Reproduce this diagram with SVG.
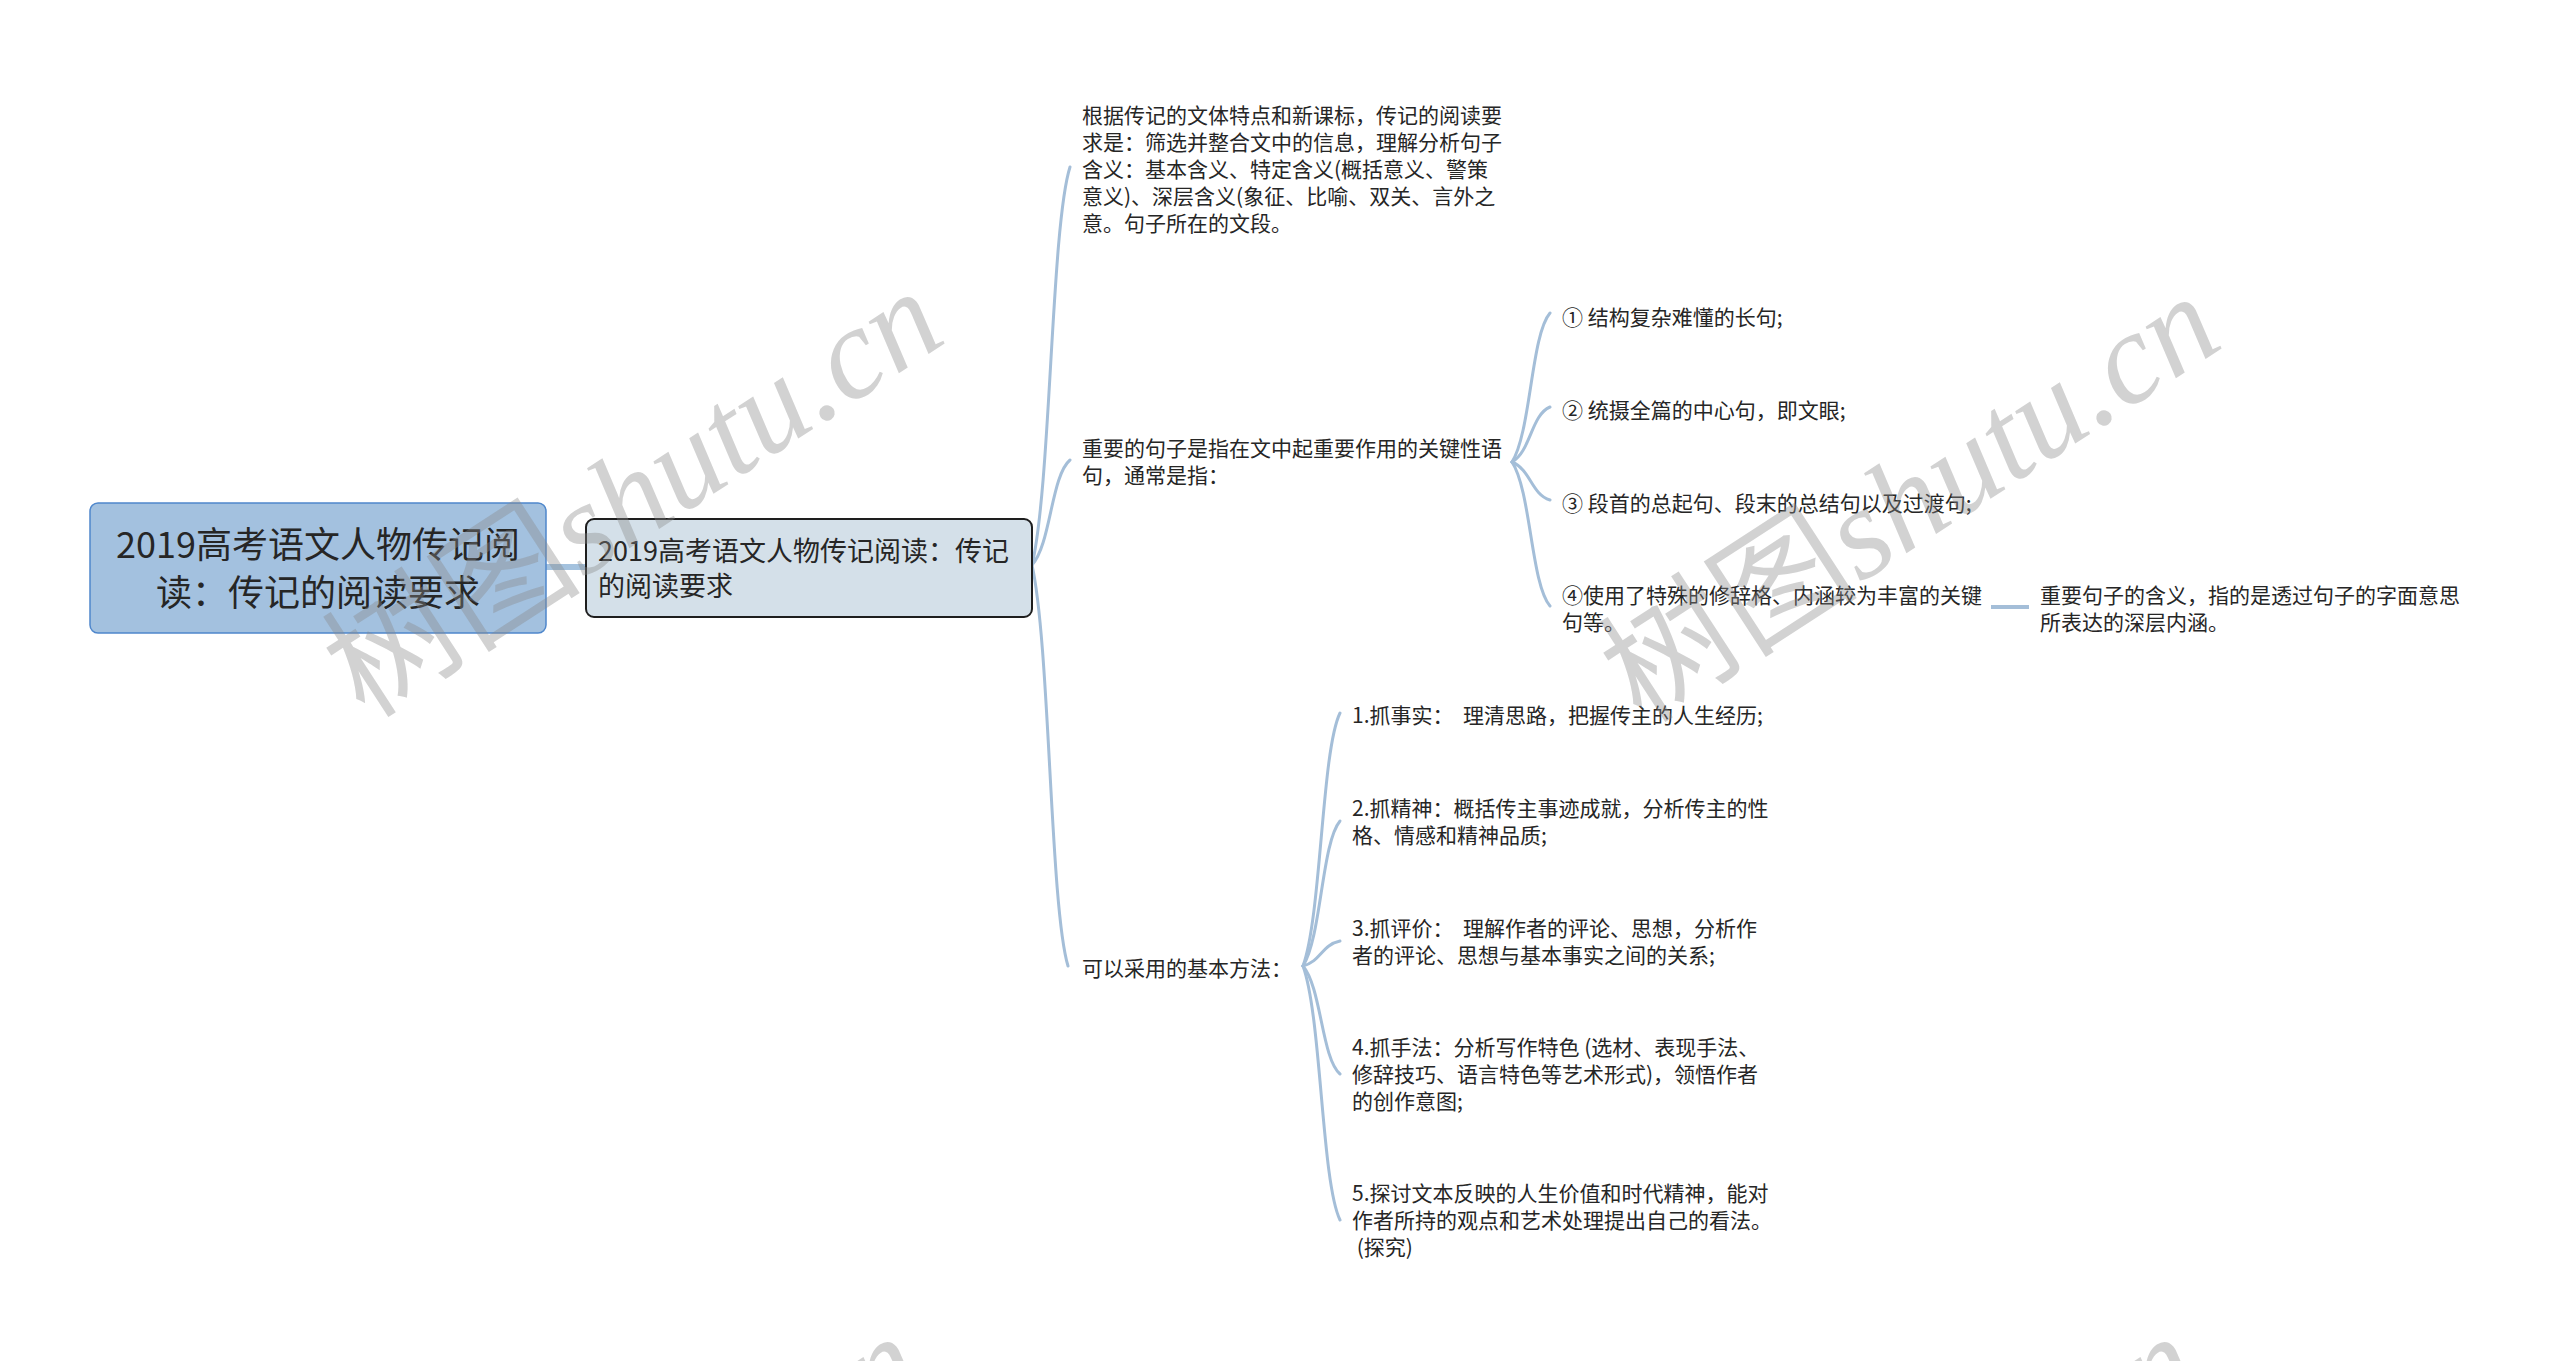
<svg xmlns="http://www.w3.org/2000/svg" width="2560" height="1361" viewBox="0 0 2560 1361">
<style>
.t{font-family:"Noto Sans CJK SC","Microsoft YaHei",sans-serif;fill:#262626}
.s{font-size:21px}
.conn{fill:none;stroke:#a4bed8;stroke-width:3;stroke-linecap:round}
.wm{fill:#8a8a8a;fill-opacity:0.38;font-size:130px}
.wmc{font-family:"Noto Sans CJK SC",sans-serif}
.wml{font-family:"Liberation Serif",serif;font-style:italic}
</style>
<rect width="2560" height="1361" fill="#ffffff"/>
<g id="connectors">
<line x1="546" y1="567" x2="585" y2="567" stroke="#a4c2de" stroke-width="6"/>
<path class="conn" d="M1032,565 C1051,485 1051,227 1070,167"/>
<path class="conn" d="M1032,565 C1051,544 1051,476 1070,460"/>
<path class="conn" d="M1032,565 C1050,645 1050,906 1068,966"/>
<path class="conn" d="M1512,462 C1531,432 1531,335 1550,313"/>
<path class="conn" d="M1512,462 C1531,451 1531,415 1550,407"/>
<path class="conn" d="M1512,462 C1531,470 1531,494 1550,500"/>
<path class="conn" d="M1512,462 C1531,491 1531,584 1550,606"/>
<path class="conn" d="M1303,966 C1321.5,915 1321.5,751 1340,713"/>
<path class="conn" d="M1303,966 C1321.5,937 1321.5,843 1340,821"/>
<path class="conn" d="M1303,966 C1321.5,961 1321.5,945 1340,941"/>
<path class="conn" d="M1303,966 C1321.5,988 1321.5,1058 1340,1074"/>
<path class="conn" d="M1303,966 C1321.5,1017 1321.5,1182 1340,1220"/>
<line x1="1991" y1="607" x2="2029" y2="607" stroke="#a4bed8" stroke-width="4"/>
</g>
<g id="root">
<rect x="90" y="503" width="456" height="130" rx="8" fill="#a3c1df" stroke="#4f87cc" stroke-width="1.5"/>
<text class="t" font-size="36" text-anchor="middle"><tspan x="318" y="558">2019高考语文人物传记阅</tspan><tspan x="318" y="606">读：传记的阅读要求</tspan></text>
</g>
<g id="main">
<rect x="586" y="519" width="446" height="98" rx="8" fill="#d4e0e9" stroke="#1e1e1e" stroke-width="2"/>
<text class="t" font-size="27"><tspan x="598" y="561">2019高考语文人物传记阅读：传记</tspan><tspan x="598" y="596">的阅读要求</tspan></text>
</g>
<g id="child1">
<text class="t s"><tspan x="1082" y="123">根据传记的文体特点和新课标，传记的阅读要</tspan><tspan x="1082" y="150">求是：筛选并整合文中的信息，理解分析句子</tspan><tspan x="1082" y="177">含义：基本含义、特定含义(概括意义、警策</tspan><tspan x="1082" y="204">意义)、深层含义(象征、比喻、双关、言外之</tspan><tspan x="1082" y="231">意。句子所在的文段。</tspan></text>
</g>
<g id="child2">
<text class="t s"><tspan x="1082" y="456">重要的句子是指在文中起重要作用的关键性语</tspan><tspan x="1082" y="483">句，通常是指：</tspan></text>
</g>
<g id="child2-1"><text class="t s" x="1562" y="325">① 结构复杂难懂的长句;</text></g>
<g id="child2-2"><text class="t s" x="1562" y="418">② 统摄全篇的中心句，即文眼;</text></g>
<g id="child2-3"><text class="t s" x="1562" y="511">③ 段首的总起句、段末的总结句以及过渡句;</text></g>
<g id="child2-4"><text class="t s"><tspan x="1562" y="603">④使用了特殊的修辞格、内涵较为丰富的关键</tspan><tspan x="1562" y="630">句等。</tspan></text></g>
<g id="child2-4-1"><text class="t s"><tspan x="2040" y="603">重要句子的含义，指的是透过句子的字面意思</tspan><tspan x="2040" y="630">所表达的深层内涵。</tspan></text></g>
<g id="child3"><text class="t s" x="1082" y="976">可以采用的基本方法：</text></g>
<g id="child3-1"><text class="t s" x="1352" y="723">1.抓事实：&#160; 理清思路，把握传主的人生经历;</text></g>
<g id="child3-2"><text class="t s"><tspan x="1352" y="816">2.抓精神：概括传主事迹成就，分析传主的性</tspan><tspan x="1352" y="843">格、情感和精神品质;</tspan></text></g>
<g id="child3-3"><text class="t s"><tspan x="1352" y="936">3.抓评价：&#160; 理解作者的评论、思想，分析作</tspan><tspan x="1352" y="963">者的评论、思想与基本事实之间的关系;</tspan></text></g>
<g id="child3-4"><text class="t s"><tspan x="1352" y="1055">4.抓手法：分析写作特色 (选材、表现手法、</tspan><tspan x="1352" y="1082">修辞技巧、语言特色等艺术形式)，领悟作者</tspan><tspan x="1352" y="1109">的创作意图;</tspan></text></g>
<g id="child3-5"><text class="t s"><tspan x="1352" y="1201">5.探讨文本反映的人生价值和时代精神，能对</tspan><tspan x="1352" y="1228">作者所持的观点和艺术处理提出自己的看法。</tspan><tspan x="1352" y="1255">&#160;(探究)</tspan></text></g>
<g id="watermarks">
<text class="wm" transform="translate(365,720) rotate(-33)"><tspan class="wmc">树图</tspan><tspan class="wml">shutu.cn</tspan></text>
<text class="wm" transform="translate(1642,725) rotate(-33)"><tspan class="wmc">树图</tspan><tspan class="wml">shutu.cn</tspan></text>
<text class="wm" transform="translate(345,1765) rotate(-33)"><tspan class="wmc">树图</tspan><tspan class="wml">shutu.cn</tspan></text>
<text class="wm" transform="translate(1622,1765) rotate(-33)"><tspan class="wmc">树图</tspan><tspan class="wml">shutu.cn</tspan></text>
</g>
</svg>
